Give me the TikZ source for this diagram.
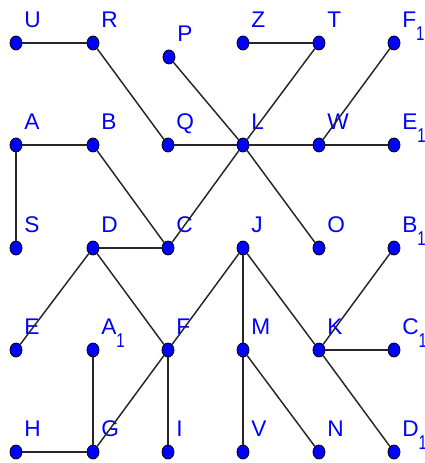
\documentclass[tikz,border=0pt]{standalone}
\usepackage{fontspec}
\setmainfont{Liberation Sans}
\usetikzlibrary{shapes.geometric}
\newcommand\lowsub[1]{\raisebox{-10pt}{\scalebox{0.75}[1]{\fontsize{15}{15}\selectfont#1}}}

\begin{document}
\begin{tikzpicture}
                [x=0.75pt,y=-0.75pt,
                pt/.style={ellipse,draw=black,fill=blue,line width=0.6pt,
                inner sep=0pt,minimum width=9pt,minimum height=10.5pt},
                lbl/.style={anchor=base west,inner sep=0pt,
                text=blue,font=\fontsize{17}{17}\selectfont},
                edge/.style={draw=black!85,line width=1.1pt}]
                \useasboundingbox (0,0) rectangle (424,463);
                \foreach \n/\x/\y/\t in {U/16/43/U, R/93/43/R, P/169/57/P, Z/243/43/Z,
                T/319/43/T, F1/394/43/F\lowsub{1},
                A/16/145/A, B/93/145/B, Q/168/145/Q, L/243/145/L, W/319/145/W,
                E1/394/145/E\lowsub{1},
                S/16/248/S, D/93/248/D, C/168/248/C, J/243/248/J, O/319/248/O,
                B1/394/248/B\lowsub{1},
                E/16/350/E, A1/93/350/A\lowsub{1}, F/168/350/F, M/243/350/M,
                K/319/350/K, C1/394/350/C\lowsub{1},
                H/16/452/H, G/93/452/G, I/168/452/I, V/243/452/V, N/319/452/N,
                D1/394/452/D\lowsub{1}}
                {
                \node[pt] (\n) at (\x,\y) {};
                \node[lbl] (\n-lbl) at ([shift={(8,-15.5)}]\n.center) {\t};
                }
                \foreach \a/\b in {U/R, R/Q, P/L, Z/T, T/L, F1/W, A/B, A/S, B/C,
                Q/L, L/W, W/E1, L/O, L/C, D/C, D/E, D/F, J/F, J/M, J/K,
                K/B1, K/C1, K/D1, M/V, M/N, A1/G, H/G, G/F, F/I}
                \draw[edge] (\a) -- (\b);
            \end{tikzpicture}
\end{document}
